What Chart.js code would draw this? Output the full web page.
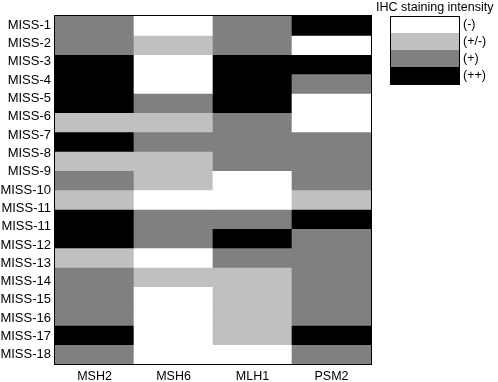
<!DOCTYPE html>
<html>
<head>
<meta charset="utf-8">
<script src="https://cdn.jsdelivr.net/npm/chart.js@4/dist/chart.umd.min.js"></script>
<style>
  html, body { margin: 0; padding: 0; background: #fff; }
  #wrap { width: 498px; height: 382px; position: relative; }
</style>
</head>
<body>
<div id="wrap"><canvas id="c" width="498" height="382"></canvas></div>
<script>
// Column categories (markers)
const markers = ['MSH2', 'MSH6', 'MLH1', 'PSM2'];
// Row tick labels as printed in the figure (19 labels)
const rowLabels = ['MISS-1','MISS-2','MISS-3','MISS-4','MISS-5','MISS-6','MISS-7','MISS-8','MISS-9','MISS-10',
                   'MISS-11','MISS-11','MISS-12','MISS-13','MISS-14','MISS-15','MISS-16','MISS-17','MISS-18'];
// Staining levels: 0 = (-), 1 = (+/-), 2 = (+), 3 = (++), 18 drawn rows, top to bottom
const msh2 = [2,2,3,3,3,1,3,1,2,1,3,3,1,2,2,2,3,2];
const msh6 = [0,1,0,0,2,1,2,1,1,0,2,2,0,1,0,0,0,0];
const mlh1 = [2,2,3,3,3,2,2,2,0,0,2,3,2,1,1,1,1,0];
const psm2 = [3,0,3,2,0,0,2,2,2,1,3,2,2,2,2,2,3,2];
// Legend
const levelNames = ['(-)', '(+/-)', '(+)', '(++)'];
const levelColors = ['#ffffff', '#c0c0c0', '#808080', '#000000'];
const legendTitle = 'IHC staining intensity';

const columns = [msh2, msh6, mlh1, psm2];
const nRows = msh2.length;

const datasets = [];
for (let r = 0; r < nRows; r++) {
  const cols = columns.map(c => levelColors[c[r]]);
  datasets.push({
    label: 'row' + r,
    data: markers.map(() => [r, r + 1]),
    backgroundColor: cols,
    borderColor: cols,
    borderWidth: 0,
    barPercentage: 1,
    categoryPercentage: 1,
    grouped: false,
    yAxisID: 'y'
  });
}

const FONT = 'Liberation Sans, Arial, sans-serif';

const frameAndLegend = {
  id: 'frameAndLegend',
  afterDatasetsDraw(chart) {
    const ctx = chart.ctx;
    const a = chart.chartArea;
    ctx.save();
    ctx.strokeStyle = '#000';
    ctx.lineWidth = 1;
    ctx.strokeRect(a.left - 0.5, a.top - 0.5, a.right - a.left + 1, a.bottom - a.top + 1);
    ctx.restore();
  },
  afterDraw(chart) {
    const ctx = chart.ctx;
    ctx.save();
    // title
    ctx.fillStyle = '#000';
    ctx.font = '12.5px ' + FONT;
    ctx.textAlign = 'left';
    ctx.textBaseline = 'middle';
    ctx.fillText(legendTitle, 376, 8);
    const bx = 390, bw = 69, by = 16, bh = 17;
    for (let i = 0; i < levelNames.length; i++) {
      ctx.fillStyle = levelColors[i];
      ctx.fillRect(bx, by + i * bh, bw, bh);
      ctx.fillStyle = '#000';
      ctx.fillText(levelNames[i], bx + bw + 4, by + i * bh + bh / 2);
    }
    ctx.strokeStyle = '#000';
    ctx.lineWidth = 1;
    ctx.strokeRect(bx + 0.5, by + 0.5, bw, bh * levelNames.length);
    ctx.restore();
  }
};

new Chart(document.getElementById('c'), {
  type: 'bar',
  data: { labels: markers, datasets },
  options: {
    responsive: false,
    animation: false,
    layout: { padding: { left: 0, right: 127, top: 16, bottom: 0 } },
    plugins: { legend: { display: false }, tooltip: { enabled: false } },
    scales: {
      x: {
        type: 'category',
        offset: true,
        grid: { display: false, drawTicks: false },
        border: { display: false },
        ticks: { color: '#000', font: { family: FONT, size: 12.5 }, padding: 5, maxRotation: 0 },
        afterFit(s) { s.height = 18; }
      },
      y: {
        type: 'linear',
        min: 0, max: nRows,
        reverse: true,
        display: false
      },
      yl: {
        type: 'category',
        labels: rowLabels,
        position: 'left',
        offset: true,
        grid: { display: false, drawTicks: false },
        border: { display: false },
        ticks: { color: '#000', font: { family: FONT, size: 13 }, padding: 4, autoSkip: false },
        afterFit(s) { s.width = 55; }
      }
    }
  },
  plugins: [frameAndLegend]
});
</script>
</body>
</html>
